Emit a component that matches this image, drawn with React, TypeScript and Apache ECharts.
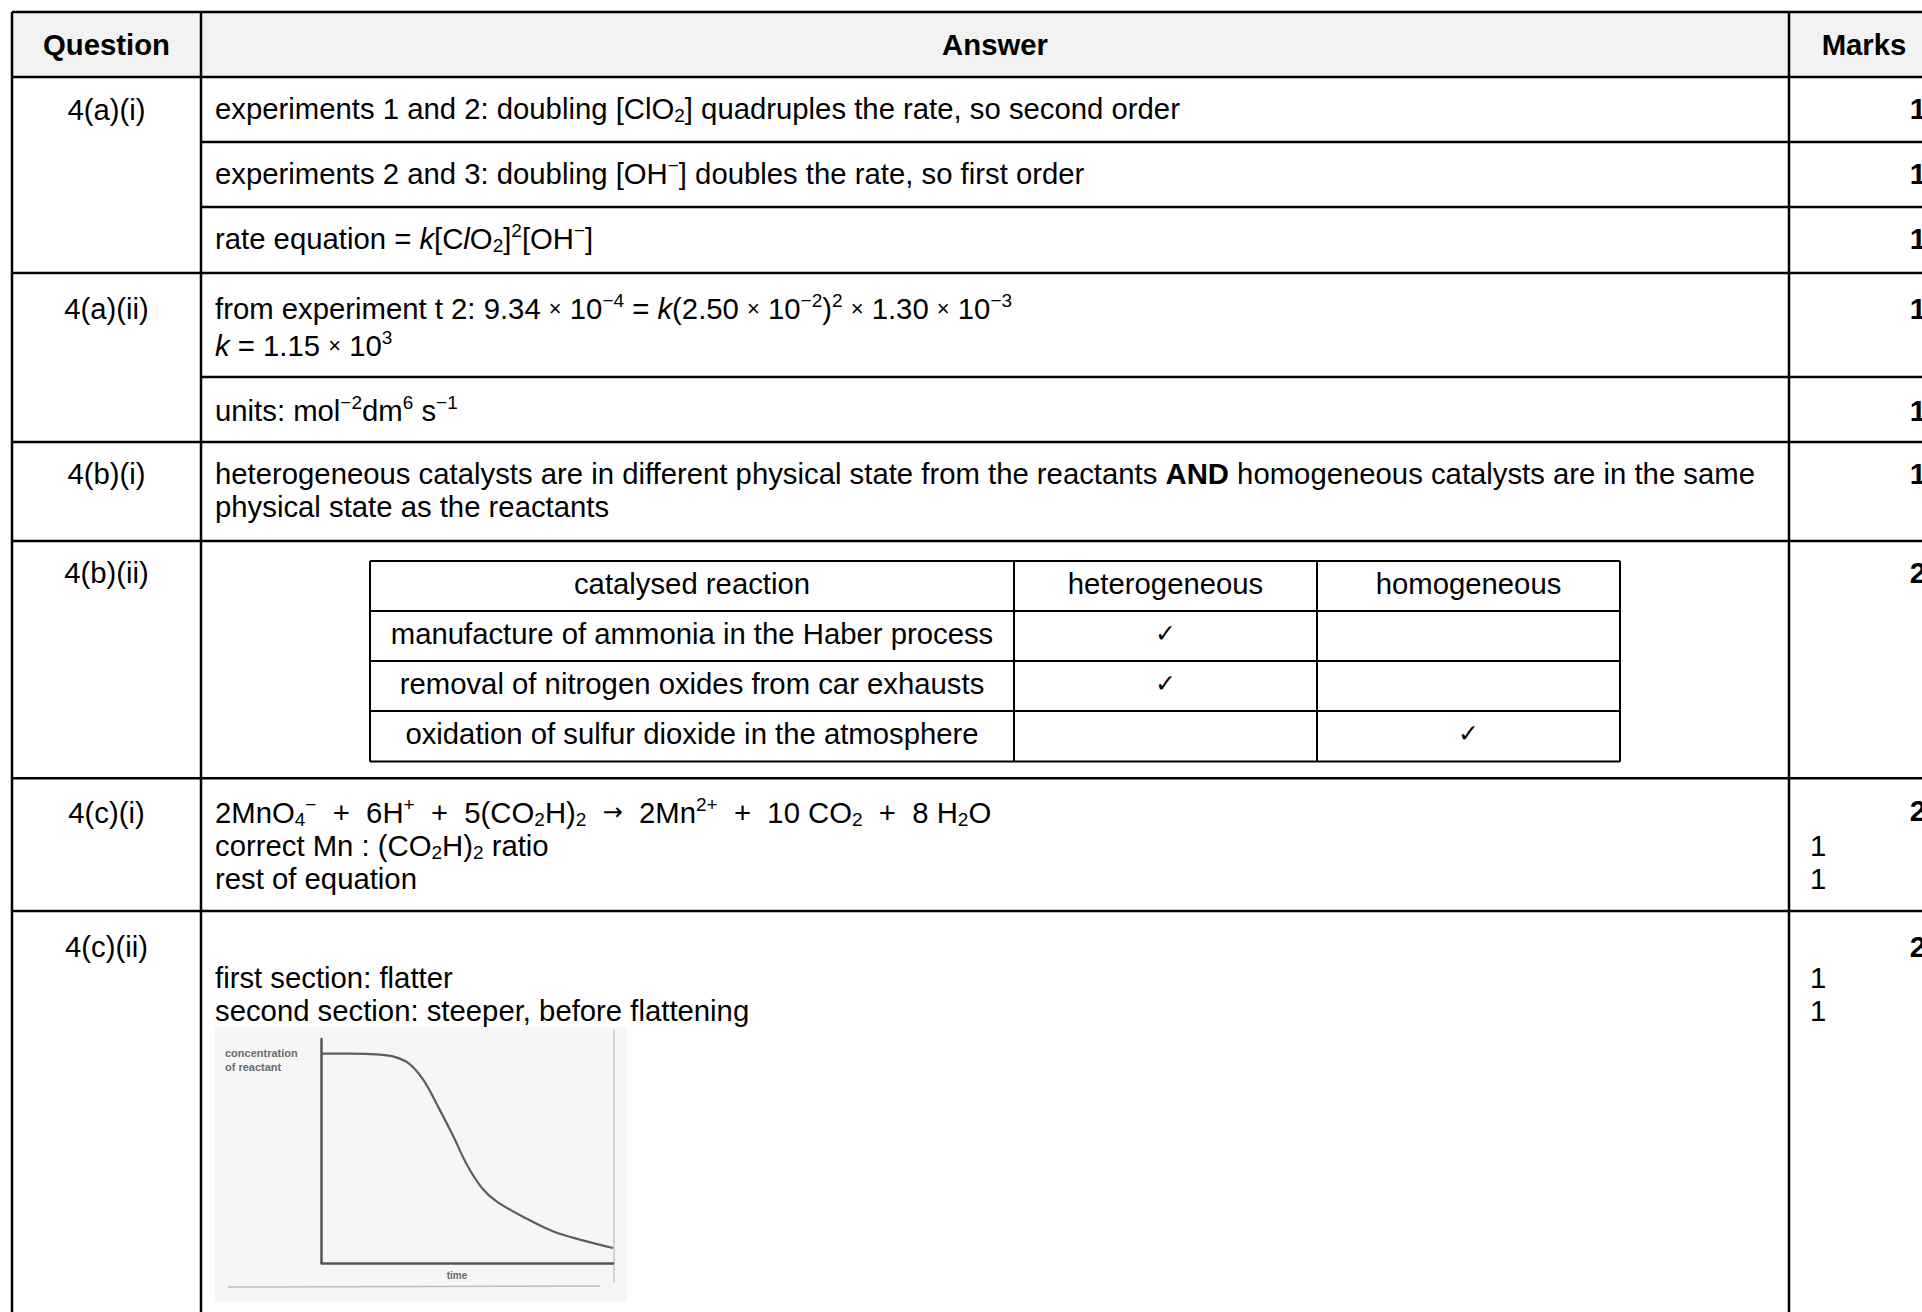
import React, { useEffect, useRef } from 'react';
import * as echarts from 'echarts';

const FONT = '"Liberation Sans", Arial, Helvetica, sans-serif';
const FS = 29.3;

// ---------- data ----------
const headers = ['Question', 'Answer', 'Marks'];
const questionLabels = ['4(a)(i)', '4(a)(ii)', '4(b)(i)', '4(b)(ii)', '4(c)(i)', '4(c)(ii)'];
const answerLines = [
  'experiments 1 and 2: doubling [ClO{sb|2}] quadruples the rate, so second order',
  'experiments 2 and 3: doubling [OH{sp|−}] doubles the rate, so first order',
  'rate equation = {i|k}[C{i|l}O{sb|2}]{sp|2}[OH{sp|−}]',
  'from experiment t 2: 9.34 {x|×} 10{sp|−4} = {i|k}(2.50 {x|×} 10{sp|−2}){sp|2} {x|×} 1.30 {x|×} 10{sp|−3}',
  '{i|k} = 1.15 {x|×} 10{sp|3}',
  'units: mol{sp|−2}dm{sp|6} s{sp|−1}',
  'heterogeneous catalysts are in different physical state from the reactants {b|AND} homogeneous catalysts are in the same',
  'physical state as the reactants',
  '2MnO{sb|4}{sp|−}  +  6H{sp|+}  +  5(CO{sb|2}H){sb|2}  {ar|→}  2Mn{sp|2+}  +  10 CO{sb|2}  +  8 H{sb|2}O',
  'correct Mn : (CO{sb|2}H){sb|2} ratio',
  'rest of equation',
  'first section: flatter',
  'second section: steeper, before flattening',
];
const totalMarks = ['1', '1', '1', '1', '1', '1', '2', '2', '2'];
const subMarks = ['1', '1', '1', '1'];

const innerHeaders = ['catalysed reaction', 'heterogeneous', 'homogeneous'];
const innerRows = [
  'manufacture of ammonia in the Haber process',
  'removal of nitrogen oxides from car exhausts',
  'oxidation of sulfur dioxide in the atmosphere',
];
const innerChecks = [
  [true, false],
  [true, false],
  [false, true],
];

const graphYLabel = ['concentration', 'of reactant'];
const graphXLabel = 'time';
const curveTime = [0, 1, 2, 2.5, 3, 3.5, 4, 4.5, 5, 5.5, 6, 7, 8, 9, 10];
const curveConc = [9.35, 9.35, 9.3, 9.2, 8.9, 8.15, 6.97, 5.7, 4.35, 3.35, 2.75, 2.0, 1.38, 1.0, 0.67];

// ---------- layout ----------
const X_LEFT = 12;
const X_Q = 201;
const X_M = 1789;
const X_RIGHT = 1939;
const Y_TOP = 12;
const Y_BOTTOM = 1330;
const fullRows = [77, 273, 442, 541, 778.3, 911];
const subRowLines = [142, 207, 377];
const answerBaselines = [118, 183, 248, 318, 355, 420, 483, 516.5, 822, 855, 888, 987, 1020];
const questionBaselines = [119, 318, 483, 582, 822, 956];
const totalMarkBaselines = [118, 183, 248, 318, 420, 483, 582, 820, 956];
const subMarkBaselines = [855, 888, 987, 1020];

const IN_X = [370, 1014, 1317, 1620];
const IN_Y = [561, 611, 661, 711, 761.5];

const nb = (s: string) => s.replace(/ /g, '\u00A0');

const rich = {
  n: { fontSize: FS, lineHeight: 34, fontFamily: FONT, fill: '#000' },
  i: { fontSize: FS, lineHeight: 34, fontFamily: FONT, fontStyle: 'italic', fill: '#000' },
  b: { fontSize: FS, lineHeight: 34, fontFamily: FONT, fontWeight: 'bold', fill: '#000' },
  x: { fontSize: 22, lineHeight: 34, fontFamily: FONT, fill: '#000' },
  ar: { fontSize: 24, lineHeight: 34, fontFamily: '"DejaVu Sans", sans-serif', fill: '#000' },
  sp: { fontSize: 19, lineHeight: 22, fontFamily: FONT, fill: '#000', verticalAlign: 'top' },
  sb: { fontSize: 19, lineHeight: 18, fontFamily: FONT, fill: '#000', verticalAlign: 'bottom' },
};

function txt(x: number, baseline: number, text: string, opt: any = {}) {
  const align = opt.align || 'left';
  return {
    type: 'text',
    x,
    y: baseline - 10,
    z: 20,
    silent: true,
    style: {
      text: nb(text),
      fontSize: opt.fontSize || FS,
      fontFamily: opt.fontFamily || FONT,
      fontWeight: opt.fontWeight || 'normal',
      lineHeight: 34,
      fill: opt.fill || '#000',
      align,
      textAlign: align,
      verticalAlign: 'middle',
      textVerticalAlign: 'middle',
      rich: opt.rich ? rich : undefined,
    },
  };
}

function ln(x1: number, y1: number, x2: number, y2: number, w = 2.5, color = '#000') {
  return {
    type: 'line',
    z: 15,
    silent: true,
    shape: { x1, y1, x2, y2 },
    style: { stroke: color, lineWidth: w },
  };
}

export default function App() {
  const ref = useRef<HTMLDivElement>(null);

  useEffect(() => {
    if (!ref.current) return;
    const chart = echarts.init(ref.current, null, { renderer: 'svg' });

    const els: any[] = [];
    // header background
    els.push({
      type: 'rect', z: 1, silent: true,
      shape: { x: X_LEFT, y: Y_TOP, width: X_RIGHT - X_LEFT, height: fullRows[0] - Y_TOP },
      style: { fill: '#f2f2f2' },
    });
    // graph picture background
    els.push({
      type: 'rect', z: 1, silent: true,
      shape: { x: 215, y: 1027, width: 412, height: 275 },
      style: { fill: '#f6f6f6' },
    });
    els.push(ln(614, 1030, 614, 1282, 1.5, '#c4c4c4'));
    els.push(ln(228, 1287, 600, 1286, 1.5, '#bdbdbd'));

    // main grid lines
    els.push(ln(X_LEFT, Y_TOP, X_RIGHT, Y_TOP));
    els.push(ln(X_LEFT, Y_TOP, X_LEFT, Y_BOTTOM));
    els.push(ln(X_Q, Y_TOP, X_Q, Y_BOTTOM));
    els.push(ln(X_M, Y_TOP, X_M, Y_BOTTOM));
    fullRows.forEach((y) => els.push(ln(X_LEFT, y, X_RIGHT, y)));
    subRowLines.forEach((y) => els.push(ln(X_Q, y, X_RIGHT, y)));

    // headers
    els.push(txt((X_LEFT + X_Q) / 2, 54, headers[0], { align: 'center', fontWeight: 'bold' }));
    els.push(txt((X_Q + X_M) / 2, 54, headers[1], { align: 'center', fontWeight: 'bold' }));
    els.push(txt((X_M + X_RIGHT) / 2, 54, headers[2], { align: 'center', fontWeight: 'bold' }));

    questionLabels.forEach((q, i) =>
      els.push(txt((X_LEFT + X_Q) / 2, questionBaselines[i], q, { align: 'center' }))
    );
    answerLines.forEach((a, i) => els.push(txt(215, answerBaselines[i], a, { rich: true })));
    totalMarks.forEach((m, i) =>
      els.push(txt(1926, totalMarkBaselines[i], m, { align: 'right', fontWeight: 'bold' }))
    );
    subMarks.forEach((m, i) => els.push(txt(1810, subMarkBaselines[i], m)));

    // inner table
    IN_Y.forEach((y) => els.push(ln(IN_X[0], y, IN_X[3], y, 2)));
    IN_X.forEach((x) => els.push(ln(x, IN_Y[0], x, IN_Y[4], 2)));
    innerHeaders.forEach((h, c) =>
      els.push(txt((IN_X[c] + IN_X[c + 1]) / 2, IN_Y[0] + 32, h, { align: 'center' }))
    );
    innerRows.forEach((r, k) => {
      els.push(txt((IN_X[0] + IN_X[1]) / 2, IN_Y[k + 1] + 32.5, r, { align: 'center' }));
      innerChecks[k].forEach((on, c) => {
        if (on)
          els.push(
            txt((IN_X[c + 1] + IN_X[c + 2]) / 2, IN_Y[k + 1] + 32, '✓', {
              align: 'center',
              fontSize: 25,
              fontFamily: '"DejaVu Sans", sans-serif',
            })
          );
      });
    });

    // graph labels
    graphYLabel.forEach((t, i) =>
      els.push({
        type: 'text', z: 20, silent: true, x: 225, y: 1053 + i * 14,
        style: { text: t, fontSize: 11, fontWeight: 'bold', fontFamily: FONT, fill: '#6a6a6a', align: 'left', textAlign: 'left', verticalAlign: 'middle', textVerticalAlign: 'middle' },
      })
    );
    els.push({
      type: 'text', z: 20, silent: true, x: 457, y: 1275,
      style: { text: graphXLabel, fontSize: 10, fontWeight: 'bold', fontFamily: FONT, fill: '#6a6a6a', align: 'center', textAlign: 'center', verticalAlign: 'middle', textVerticalAlign: 'middle' },
    });

    chart.setOption({
      animation: false,
      backgroundColor: '#ffffff',
      graphic: { elements: els },
      grid: { left: 321.7, top: 1039, width: 291.3, height: 224, containLabel: false },
      xAxis: {
        type: 'value', min: 0, max: 10, z: 25,
        axisLine: { show: true, onZero: false, lineStyle: { color: '#555', width: 2.5 } },
        axisTick: { show: false }, axisLabel: { show: false }, splitLine: { show: false },
      },
      yAxis: {
        type: 'value', min: 0, max: 10, z: 25,
        axisLine: { show: true, onZero: false, lineStyle: { color: '#555', width: 2.5 } },
        axisTick: { show: false }, axisLabel: { show: false }, splitLine: { show: false },
      },
      series: [
        {
          type: 'line',
          z: 30,
          smooth: 0.35,
          showSymbol: false,
          silent: true,
          lineStyle: { color: '#5e5e5e', width: 2.2 },
          data: curveTime.map((t, i) => [t, curveConc[i]]),
        },
      ],
    });

    return () => chart.dispose();
  }, []);

  return (
    <div
      ref={ref}
      style={{ position: 'fixed', left: 0, top: 0, width: 1922, height: 1312, background: '#fff' }}
    />
  );
}
